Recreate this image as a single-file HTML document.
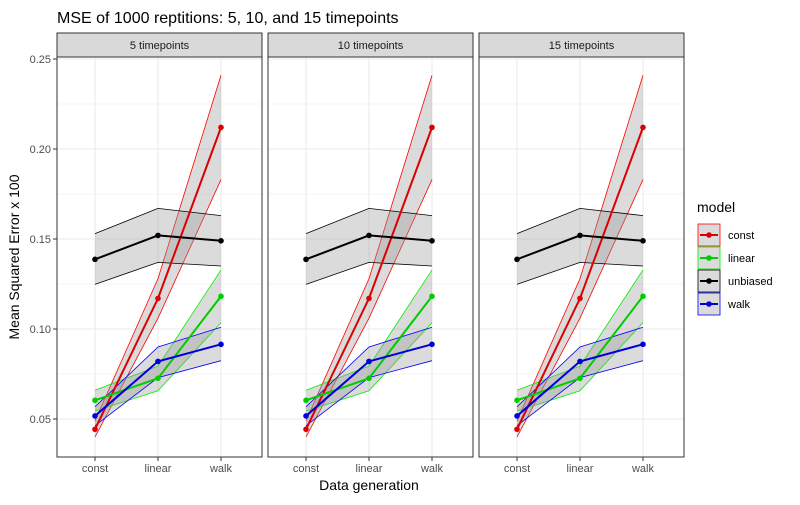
<!DOCTYPE html>
<html><head><meta charset="utf-8"><style>
body{margin:0;background:#fff;font-family:"Liberation Sans",sans-serif}
</style></head><body>
<svg id="chart" width="800" height="500" xmlns="http://www.w3.org/2000/svg" font-family="Liberation Sans, sans-serif">
<rect width="800" height="500" fill="#fff"/>
<text x="57" y="23" font-size="16" fill="#000">MSE of 1000 reptitions: 5, 10, and 15 timepoints</text>
<text transform="translate(19,257) rotate(-90)" text-anchor="middle" font-size="14">Mean Squared Error x 100</text>
<text x="369" y="490" text-anchor="middle" font-size="14">Data generation</text>
<g id="panels"></g>
<g id="legend"></g>
</svg>
<script>
const facets=["5 timepoints","10 timepoints","15 timepoints"];
const categories=["const","linear","walk"];
const yTicks=[0.05,0.10,0.15,0.20,0.25];
const yTickLabels=["0.05","0.10","0.15","0.20","0.25"];
const models=["const","linear","unbiased","walk"];
const colors=["#ff0000","#00ee00","#000000","#0000ff"];
const lineColors=["#dd0000","#00cc00","#000000","#0000dd"];
const constMean=[0.0443,0.117,0.212];
const constLow=[0.040,0.106,0.183];
const constHigh=[0.049,0.128,0.241];
const linearMean=[0.0604,0.0726,0.1182];
const linearLow=[0.0544,0.0657,0.1035];
const linearHigh=[0.066,0.0794,0.1328];
const unbiasedMean=[0.1387,0.152,0.149];
const unbiasedLow=[0.1248,0.137,0.135];
const unbiasedHigh=[0.153,0.167,0.163];
const walkMean=[0.0517,0.082,0.0915];
const walkLow=[0.0463,0.073,0.0824];
const walkHigh=[0.0568,0.090,0.101];
const means=[constMean,linearMean,unbiasedMean,walkMean];
const lows=[constLow,linearLow,unbiasedLow,walkLow];
const highs=[constHigh,linearHigh,unbiasedHigh,walkHigh];

const NS="http://www.w3.org/2000/svg";
function mk(tag,attrs,parent){const e=document.createElementNS(NS,tag);for(const k in attrs)e.setAttribute(k,attrs[k]);parent.appendChild(e);return e;}
const plotTop=57,plotBottom=457,pw=205;
const panelX=[57,268,479];
function y(v){return 419-(v-0.05)*1800;}
function x(i){return 38+i*63;}
const root=document.getElementById('panels');
facets.forEach((f,p)=>{
  const g=mk('g',{transform:`translate(${panelX[p]},0)`},root);
  
  
  mk('rect',{x:0,y:plotTop,width:pw,height:plotBottom-plotTop,fill:'#fff'},g);
  for(let v=0.075;v<0.26;v+=0.05){mk('line',{x1:0,x2:pw,y1:y(v),y2:y(v),stroke:'#ebebeb','stroke-width':0.6},g);}
  yTicks.forEach(v=>mk('line',{x1:0,x2:pw,y1:y(v),y2:y(v),stroke:'#ebebeb','stroke-width':1.1},g));
  categories.forEach((c,i)=>mk('line',{x1:x(i),x2:x(i),y1:plotTop,y2:plotBottom,stroke:'#ebebeb','stroke-width':1.1},g));
  models.forEach((m,k)=>{
    let pts=categories.map((c,i)=>x(i)+','+y(highs[k][i])).join(' ')+' '+categories.map((c,i)=>x(i)+','+y(lows[k][i])).reverse().join(' ');
    const r=mk('polygon',{points:pts,fill:'#999','fill-opacity':0.35,stroke:'none'},g);
    
    
    mk('polyline',{points:categories.map((c,i)=>x(i)+','+y(highs[k][i])).join(' '),fill:'none',stroke:colors[k],'stroke-width':0.8},g);
    mk('polyline',{points:categories.map((c,i)=>x(i)+','+y(lows[k][i])).join(' '),fill:'none',stroke:colors[k],'stroke-width':0.8},g);
  });
  models.forEach((m,k)=>{
    const l=mk('polyline',{points:categories.map((c,i)=>x(i)+','+y(means[k][i])).join(' '),fill:'none',stroke:lineColors[k],'stroke-width':2},g);
    
    
    categories.forEach((c,i)=>{
      const pt=mk('circle',{cx:x(i),cy:y(means[k][i]),r:2.8,fill:lineColors[k]},g);
      
      
    });
  });
  mk('rect',{x:0,y:plotTop,width:pw,height:plotBottom-plotTop,fill:'none',stroke:'#333','stroke-width':1},g);
  const s=mk('rect',{x:0,y:33,width:pw,height:24,fill:'#d9d9d9',stroke:'#333','stroke-width':1},g);
  
  
  const st=mk('text',{x:pw/2,y:49,'text-anchor':'middle','font-size':11,fill:'#1a1a1a'},g);st.textContent=f;
  categories.forEach((c,i)=>{
    mk('line',{x1:x(i),x2:x(i),y1:plotBottom,y2:plotBottom+4,stroke:'#333'},g);
    const t=mk('text',{x:x(i),y:plotBottom+15,'text-anchor':'middle','font-size':11,fill:'#4d4d4d'},g);t.textContent=c;
    
    
  });
  if(p===0){
    yTicks.forEach((v,i)=>{
      mk('line',{x1:-4,x2:0,y1:y(v),y2:y(v),stroke:'#333'},g);
      const t=mk('text',{x:-6,y:y(v)+4,'text-anchor':'end','font-size':11,fill:'#4d4d4d'},g);t.textContent=yTickLabels[i];
      
      
    });
  }
});
const lg=document.getElementById('legend');
const lt=mk('text',{x:697,y:212,'font-size':14,fill:'#000'},lg);lt.textContent='model';
models.forEach((m,k)=>{
  const yy=224+k*23;
  const e=mk('g',{},lg);
  
  
  mk('rect',{x:698,y:yy,width:22,height:22,fill:'#999','fill-opacity':0.35,stroke:colors[k],'stroke-width':0.8},e);
  mk('line',{x1:700,x2:718,y1:yy+11,y2:yy+11,stroke:lineColors[k],'stroke-width':2},e);
  mk('circle',{cx:709,cy:yy+11,r:2.8,fill:lineColors[k]},e);
  const t=mk('text',{x:728,y:yy+15,'font-size':11,fill:'#000'},e);t.textContent=m;
});
</script>
</body></html>
